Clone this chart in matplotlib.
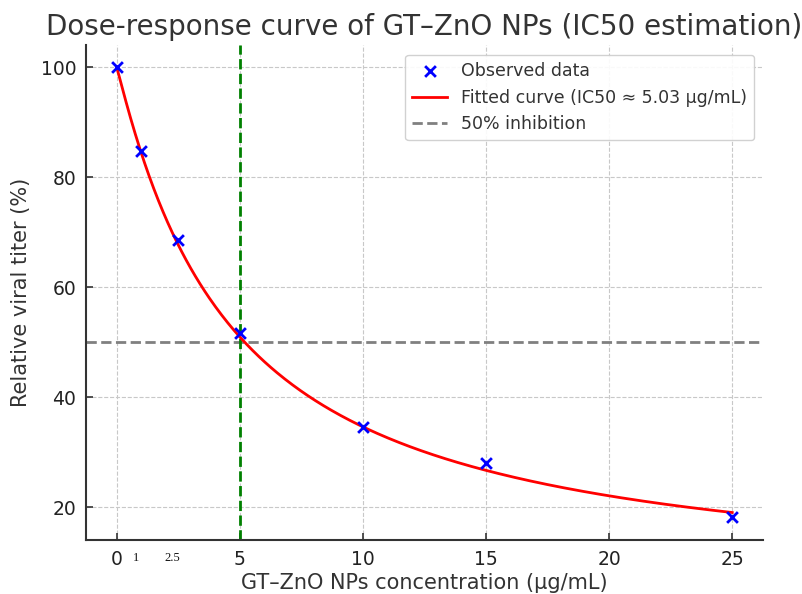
import matplotlib
matplotlib.use('Agg')
import matplotlib.pyplot as plt
import matplotlib.transforms as mtransforms
import numpy as np

# observed data
conc = [0, 1, 2.5, 5, 10, 15, 25]
titer = [100, 84.8, 68.6, 51.6, 34.5, 28.0, 18.1]

# fitted curve parameters
fit_top = 100.0
fit_bottom = 5.0
fit_c = 4.7
fit_hill = 1.05
ic50 = 5.03

extra_ticks = [1, 2.5]
extra_tick_labels = ['1', '2.5']

text_color = '#333333'

fig = plt.figure(figsize=(8.03, 5.94), dpi=100)
ax = fig.add_axes([86/803, 1-540/594, (763-86)/803, (540-45)/594])

ax.grid(True, linestyle='--', linewidth=0.8, color='#c8c8c8', zorder=0)

x_fit = np.linspace(min(conc), max(conc), 400)
y_fit = fit_bottom + (fit_top - fit_bottom) / (1 + (x_fit / fit_c) ** fit_hill)

ax.scatter(conc, titer, marker='x', color='blue', s=60, linewidths=2,
           label='Observed data', zorder=4)
ax.plot(x_fit, y_fit, color='red', lw=2,
        label='Fitted curve (IC50 \u2248 %.2f \u00b5g/mL)' % ic50, zorder=3)
ax.axhline(50, color='gray', linestyle='--', lw=2, label='50% inhibition', zorder=2)
ax.axvline(5, color='green', linestyle='--', lw=2, zorder=2)

ax.set_xticks([0, 5, 10, 15, 20, 25])
ax.set_yticks([20, 40, 60, 80, 100])
ax.tick_params(direction='in', labelsize=13.5, colors='#222222', pad=7)
ax.tick_params(axis='both', width=1.2, length=5, color=text_color)

for s in ['top', 'right']:
    ax.spines[s].set_visible(False)
for s in ['left', 'bottom']:
    ax.spines[s].set_color(text_color)
    ax.spines[s].set_linewidth(1.5)

# small extra labels under the axis
trans = mtransforms.blended_transform_factory(ax.transData, ax.transAxes)
for xv, lab in zip(extra_ticks, extra_tick_labels):
    ax.annotate(lab, xy=(xv, 0), xycoords=trans, xytext=(-4, -13),
                textcoords='offset points', ha='center', va='center',
                fontsize=9, family='Liberation Serif', color='#111111')

ax.set_title('Dose-response curve of GT\u2013ZnO NPs (IC50 estimation)',
             fontsize=20, color=text_color, pad=7)
ax.set_xlabel('GT\u2013ZnO NPs concentration (\u00b5g/mL)', fontsize=15,
              color=text_color, labelpad=3)
ax.set_ylabel('Relative viral titer (%)', fontsize=15, color=text_color,
              labelpad=7)

leg = ax.legend(loc='upper right', fontsize=12.5, framealpha=0.9,
                edgecolor='#cccccc', borderaxespad=0,
                bbox_to_anchor=((754-86)/677, 1-10/495))
for t in leg.get_texts():
    t.set_color(text_color)

fig.savefig('out.png', dpi=100)
